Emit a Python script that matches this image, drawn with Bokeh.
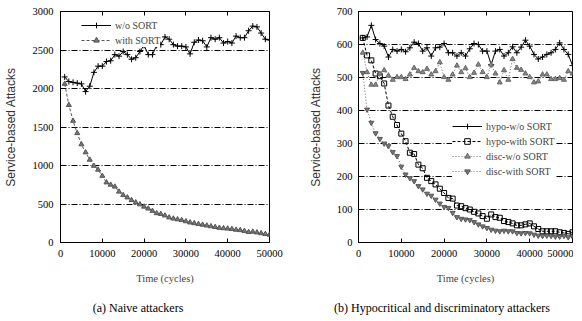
from bokeh.plotting import figure
from bokeh.layouts import row, column
from bokeh.models import (Range1d, FixedTicker, LinearAxis, Legend, LegendItem, Div,
                          CustomLabelingPolicy)
from bokeh.embed import file_html
from bokeh.resources import INLINE

time = list(range(1000, 50001, 1000))

naive_wo = [2150, 2090, 2080, 2070, 2060, 1960, 2030, 2210, 2290, 2290,
            2350, 2360, 2440, 2420, 2480, 2440, 2380, 2400, 2480, 2560,
            2440, 2440, 2560, 2570, 2670, 2640, 2570, 2550, 2550, 2540,
            2450, 2600, 2630, 2620, 2540, 2660, 2640, 2660, 2590, 2610,
            2590, 2680, 2660, 2660, 2750, 2810, 2800, 2720, 2640, 2630]
naive_with = [2060, 1785, 1580, 1420, 1275, 1170, 1075, 995, 945, 865,
              780, 750, 725, 660, 615, 585, 550, 520, 495, 465,
              440, 410, 380, 370, 350, 325, 310, 300, 290, 275,
              260, 250, 240, 230, 220, 210, 200, 190, 185, 180,
              175, 165, 160, 150, 135, 140, 130, 120, 110, 100]

hypo_wo = [620, 623, 658, 615, 603, 595, 562, 585, 580, 585,
           578, 590, 607, 603, 580, 590, 565, 590, 592, 603,
           575, 575, 565, 575, 565, 587, 603, 600, 580, 580,
           539, 580, 585, 565, 575, 593, 575, 592, 613, 595,
           570, 556, 562, 570, 575, 585, 605, 585, 570, 536]
hypo_with = [620, 567, 552, 512, 504, 482, 415, 381, 356, 330,
             307, 272, 268, 236, 225, 196, 186, 176, 163, 150,
             135, 133, 112, 110, 104, 100, 93, 88, 80, 72,
             85, 77, 75, 65, 62, 58, 52, 52, 55, 58,
             49, 41, 34, 34, 34, 34, 31, 29, 26, 31]
disc_wo = [575, 516, 478, 478, 511, 522, 506, 493, 501, 501,
           495, 509, 529, 519, 516, 526, 509, 519, 546, 501,
           493, 509, 536, 516, 528, 501, 514, 539, 516, 501,
           539, 512, 485, 522, 493, 556, 529, 523, 512, 501,
           485, 488, 509, 509, 495, 495, 498, 493, 519, 512]
disc_with = [514, 403, 363, 331, 314, 300, 292, 274, 262, 230,
             206, 195, 186, 171, 161, 148, 142, 130, 118, 108,
             105, 90, 77, 72, 70, 68, 62, 55, 49, 44,
             39, 36, 34, 36, 34, 34, 29, 28, 29, 28,
             24, 21, 20, 21, 20, 18, 18, 20, 16, 18]

x_ticks = [0, 10000, 20000, 30000, 40000, 50000]
left_y_ticks = [0, 500, 1000, 1500, 2000, 2500, 3000]
right_y_ticks = [0, 100, 200, 300, 400, 500, 600, 700]
captions = ["(a) Naive attackers", "(b) Hypocritical and discriminatory attackers"]

SERIF = "Liberation Serif"
SANS = "Liberation Sans"


def make_fig(frame_w, border_left, border_right, ymax, yticks, ylabel_standoff, ytick_standoff):
    p = figure(frame_width=frame_w, frame_height=231, output_backend="svg",
               toolbar_location=None,
               x_range=Range1d(0, 50000), y_range=Range1d(0, ymax),
               min_border_left=border_left, min_border_right=border_right,
               min_border_top=4, min_border_bottom=0)
    p.outline_line_color = "black"
    p.outline_line_width = 1
    p.background_fill_color = "white"
    p.border_fill_color = "white"
    p.xgrid.visible = False
    p.ygrid.ticker = FixedTicker(ticks=yticks[1:-1])
    p.ygrid.grid_line_color = "black"
    p.ygrid.grid_line_dash = "6 2 1 2"
    p.ygrid.grid_line_width = 1
    p.xaxis.ticker = FixedTicker(ticks=x_ticks)
    p.yaxis.ticker = FixedTicker(ticks=yticks)
    for ax in (p.xaxis[0], p.yaxis[0]):
        ax.major_tick_in = 4
        ax.major_tick_out = 0
        ax.minor_tick_line_color = None
        ax.axis_line_color = "black"
        ax.major_label_text_font = SERIF
        ax.major_label_text_font_size = "10.5px"
        ax.major_label_text_color = "black"
        ax.axis_label_text_font_style = "normal"
    p.xaxis.major_label_standoff = 7
    p.yaxis.major_label_standoff = ytick_standoff
    p.xaxis.axis_label = "Time (cycles)"
    p.xaxis.axis_label_text_font = SERIF
    p.xaxis.axis_label_text_font_size = "10.5px"
    p.xaxis.axis_label_standoff = 13
    p.yaxis.axis_label = "Service-based Attacks"
    p.yaxis.axis_label_text_font = SANS
    p.yaxis.axis_label_text_font_size = "12px"
    p.yaxis.axis_label_text_color = "#333333"
    p.yaxis.axis_label_standoff = ylabel_standoff
    top = LinearAxis(ticker=FixedTicker(ticks=x_ticks), major_tick_in=4, major_tick_out=0,
                     minor_tick_line_color=None, axis_line_color=None,
                     major_label_policy=CustomLabelingPolicy(code="return new Set()"),
                     major_label_standoff=0)
    p.add_layout(top, "above")
    return p


left = make_fig(209, 53, 20, 3000, left_y_ticks, 12, 7)
l1 = left.line(time, naive_wo, line_color="black", line_width=1)
m1 = left.scatter(time, naive_wo, marker="cross", size=6, line_color="black", line_width=1)
l2 = left.line(time, naive_with, line_color="#555555", line_width=1, line_dash="3 2")
m2 = left.scatter(time, naive_with, marker="triangle", size=5, line_color="#555555",
                  fill_color="#777777", line_width=1)
leg_l = Legend(items=[LegendItem(label="w/o SORT", renderers=[l1, m1]),
                      LegendItem(label="with SORT", renderers=[l2, m2])],
               location=(21, 195), label_text_font=SERIF, label_text_font_size="10px",
               glyph_width=30, glyph_height=14, label_height=14, spacing=1, padding=2,
               margin=0, label_standoff=4, border_line_color=None,
               background_fill_color="white", background_fill_alpha=1.0)
left.add_layout(leg_l)

right = make_fig(214, 69, 1, 700, right_y_ticks, 11, 6)
r1 = right.line(time, hypo_wo, line_color="black", line_width=1)
s1 = right.scatter(time, hypo_wo, marker="cross", size=6, line_color="black", line_width=1)
r2 = right.line(time, hypo_with, line_color="black", line_width=1, line_dash="3 2")
s2 = right.scatter(time, hypo_with, marker="square", size=5, line_color="black",
                   fill_color=None, line_width=1)
r3 = right.line(time, disc_wo, line_color="#666666", line_width=1, line_dash="1 2")
s3 = right.scatter(time, disc_wo, marker="triangle", size=5, line_color="#666666",
                   fill_color="#888888", line_width=1)
r4 = right.line(time, disc_with, line_color="#666666", line_width=1, line_dash="1 2")
s4 = right.scatter(time, disc_with, marker="inverted_triangle", size=5, line_color="#555555",
                   fill_color="#777777", line_width=1)
leg_r = Legend(items=[LegendItem(label="hypo-w/o SORT", renderers=[r1, s1]),
                      LegendItem(label="hypo-with SORT", renderers=[r2, s2]),
                      LegendItem(label="disc-w/o SORT", renderers=[r3, s3]),
                      LegendItem(label="disc-with SORT", renderers=[r4, s4])],
               location=(94, 64), label_text_font=SERIF, label_text_font_size="10px",
               glyph_width=30, glyph_height=14, label_height=14, spacing=1, padding=3,
               margin=0, label_standoff=4, border_line_color=None,
               background_fill_color="white", background_fill_alpha=1.0)
right.add_layout(leg_r)

cap_style = ("box-sizing:border-box;font-family:'Liberation Serif';font-size:12px;"
             "line-height:14px;color:black;text-align:center;white-space:nowrap;"
             "padding-top:15px;")
cap_a = Div(text='<div style="%swidth:276px;">%s</div>' % (cap_style, captions[0]),
            width=282, height=30, margin=0)
cap_b = Div(text='<div style="%spadding-left:36px;width:284px;">%s</div>' % (cap_style, captions[1]),
            width=284, height=30, margin=0)

layout = column(row(left, right), row(cap_a, cap_b))
open("out.html", "w").write(file_html(layout, INLINE))
